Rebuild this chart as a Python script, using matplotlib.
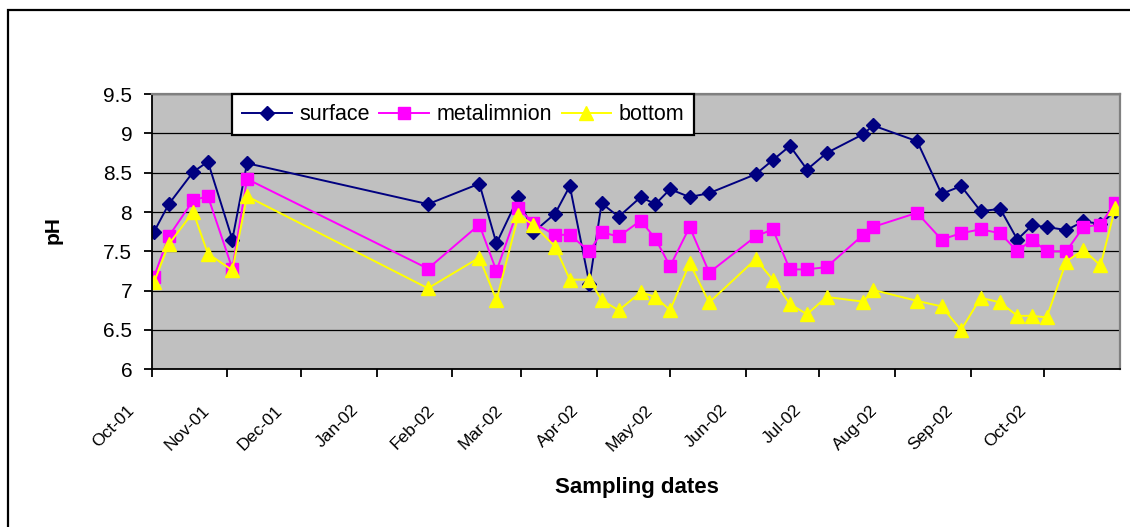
import numpy as np
import matplotlib
matplotlib.use('Agg')
import matplotlib.pyplot as plt
import matplotlib.dates as mdates
from matplotlib.ticker import MultipleLocator, FuncFormatter
from matplotlib.patches import Rectangle
from matplotlib.transforms import ScaledTranslation

plt.rcParams['font.family'] = ['Liberation Sans', 'DejaVu Sans']

# sampling dates
dates = ['2001-10-02', '2001-10-08', '2001-10-18', '2001-10-24', '2001-11-03',
         '2001-11-09', '2002-01-22', '2002-02-12', '2002-02-19', '2002-02-28',
         '2002-03-06', '2002-03-15', '2002-03-21', '2002-03-29', '2002-04-03',
         '2002-04-10', '2002-04-19', '2002-04-25', '2002-05-01', '2002-05-09',
         '2002-05-17', '2002-06-05', '2002-06-12', '2002-06-19', '2002-06-26',
         '2002-07-04', '2002-07-19', '2002-07-23', '2002-08-10', '2002-08-20',
         '2002-08-28', '2002-09-05', '2002-09-13', '2002-09-20', '2002-09-26',
         '2002-10-02', '2002-10-10', '2002-10-17', '2002-10-24', '2002-10-30']

surface = [7.75, 8.10, 8.51, 8.64, 7.65, 8.62, 8.10, 8.36, 7.60, 8.19,
           7.74, 7.98, 8.33, 7.09, 8.11, 7.94, 8.19, 8.10, 8.29, 8.19,
           8.24, 8.48, 8.66, 8.84, 8.54, 8.75, 8.99, 9.10, 8.90, 8.23,
           8.33, 8.01, 8.04, 7.65, 7.83, 7.81, 7.77, 7.88, 7.85, 8.01]

metalimnion = [7.18, 7.69, 8.15, 8.20, 7.28, 8.42, 7.28, 7.84, 7.25, 8.05,
               7.86, 7.71, 7.71, 7.50, 7.74, 7.69, 7.89, 7.66, 7.31, 7.81,
               7.23, 7.69, 7.78, 7.27, 7.27, 7.30, 7.71, 7.81, 7.99, 7.65,
               7.73, 7.78, 7.73, 7.50, 7.65, 7.50, 7.50, 7.81, 7.84, 8.12]

bottom = [7.11, 7.59, 8.00, 7.47, 7.26, 8.20, 7.03, 7.42, 6.88, 7.96,
          7.84, 7.56, 7.14, 7.14, 6.88, 6.75, 6.98, 6.92, 6.75, 7.35,
          6.85, 7.40, 7.14, 6.83, 6.70, 6.92, 6.86, 7.01, 6.87, 6.80,
          6.50, 6.91, 6.85, 6.68, 6.68, 6.66, 7.37, 7.52, 7.32, 8.05]

d = np.array(dates, dtype='datetime64[D]')

fig = plt.figure(figsize=(11.3, 5.27), dpi=100)
# outer chart frame
fig.add_artist(Rectangle((8 / 1130, -0.05), 1.1, 1.05 - 10 / 527,
                         transform=fig.transFigure, fill=False,
                         edgecolor='black', lw=1.6))

ax = fig.add_axes([0.1342, 0.2992, 0.8570, 0.5224])
ax.set_facecolor('#C0C0C0')

ax.plot(d, surface, '-D', color='#000080', lw=1.4, ms=7.3, label='surface')
ax.plot(d, metalimnion, '-s', color='#FF00FF', mec='#FF00FF', lw=1.4, ms=8.5,
        label='metalimnion')
ax.plot(d, bottom, '-^', color='#FFFF00', lw=1.4, ms=10, label='bottom')

ax.set_xlim(np.datetime64('2001-10-01'), np.datetime64('2002-11-01'))
ax.set_ylim(6, 9.5)
months = np.arange('2001-10', '2002-11', dtype='datetime64[M]').astype('datetime64[D]')
ax.set_xticks(months)
ax.xaxis.set_major_formatter(mdates.DateFormatter('%b-%y'))
ax.yaxis.set_major_locator(MultipleLocator(0.5))
ax.yaxis.set_major_formatter(FuncFormatter(lambda v, p: f'{v:g}'))

ax.grid(axis='y', color='black', lw=0.9)
ax.set_axisbelow(True)

for s in ['top', 'right']:
    ax.spines[s].set_color('#808080')
    ax.spines[s].set_linewidth(1.6)
for s in ['left', 'bottom']:
    ax.spines[s].set_color('black')
    ax.spines[s].set_linewidth(1.3)

ax.tick_params(axis='both', direction='out', length=6, width=1.3)
ax.tick_params(axis='y', labelsize=15, pad=8)
ax.tick_params(axis='x', labelsize=12.5, pad=2)

offset = ScaledTranslation(-0.15, -0.22, fig.dpi_scale_trans)
for lab in ax.get_xticklabels():
    lab.set_rotation(45)
    lab.set_ha('right')
    lab.set_va('top')
    lab.set_transform(lab.get_transform() + offset)

ax.set_ylabel('pH', fontsize=15, fontweight='bold')
ax.yaxis.set_label_coords(-0.0916, 0.505)
ax.set_xlabel('Sampling dates', fontsize=16, fontweight='bold')
ax.xaxis.set_label_coords(0.501, -0.39)

leg = ax.legend(loc='upper left', bbox_to_anchor=(232 / 1130, 1 - 94 / 527),
                bbox_transform=fig.transFigure, ncol=3, fontsize=15.5,
                frameon=True, fancybox=False, borderaxespad=0,
                handlelength=2.3, handletextpad=0.35, columnspacing=0.45,
                borderpad=0.47)
leg.get_frame().set_edgecolor('black')
leg.get_frame().set_linewidth(1.6)
leg.get_frame().set_facecolor('white')
leg.get_frame().set_alpha(1)

fig.savefig('out.png', dpi=100)
